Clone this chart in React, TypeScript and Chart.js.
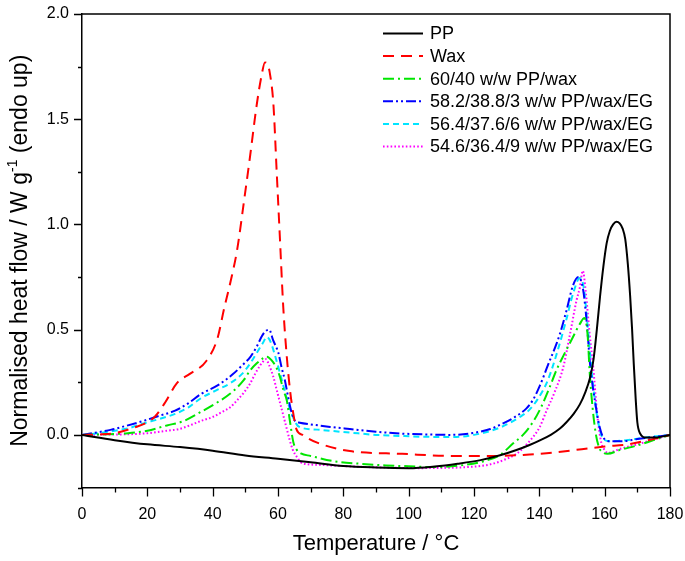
import React, { useEffect, useRef } from "react";
import { Chart, registerables } from "chart.js";

Chart.register(...registerables);

const FONT = "'Liberation Sans', Arial, sans-serif";

const xMajorTicks = [0, 20, 40, 60, 80, 100, 120, 140, 160, 180];
const xMinorTicks = [10, 30, 50, 70, 90, 110, 130, 150, 170];
const yMajorTicks = [0, 0.5, 1, 1.5, 2];
const yMinorTicks = [-0.25, 0.25, 0.75, 1.25, 1.75];

const seriesNames = [
  "PP",
  "Wax",
  "60/40 w/w PP/wax",
  "58.2/38.8/3 w/w PP/wax/EG",
  "56.4/37.6/6 w/w PP/wax/EG",
  "54.6/36.4/9 w/w PP/wax/EG",
];

// [temperature °C, normalised heat flow W/g]
const ppData: [number, number][] = [
  [0, 0], [10, -0.025], [20, -0.045], [30, -0.058], [40, -0.075], [50, -0.098], [60, -0.113],
  [70, -0.13], [80, -0.148], [90, -0.155], [100, -0.158], [108, -0.15], [115, -0.137],
  [122, -0.12], [128, -0.097], [133, -0.072], [137, -0.048], [140, -0.027], [143.5, 0.0],
  [146.3, 0.03], [148.3, 0.06], [150.5, 0.1], [152.4, 0.145], [154, 0.2], [155.5, 0.27],
  [156.6, 0.36], [157.6, 0.5], [158.6, 0.66], [159.6, 0.8], [160.6, 0.91], [161.6, 0.97],
  [162.6, 1.0], [163.6, 1.013], [164.6, 1.005], [165.5, 0.98], [166.3, 0.93], [167.1, 0.81],
  [167.8, 0.66], [168.4, 0.5], [168.9, 0.34], [169.5, 0.17], [170, 0.06], [170.8, 0.008],
  [172.8, -0.013], [176, -0.012], [180, 0],
];

const waxData: [number, number][] = [
  [0, 0], [5, 0.002], [10, 0.008], [16, 0.035], [20, 0.06], [22.5, 0.09], [25.5, 0.155],
  [29, 0.245], [33, 0.29], [38, 0.35], [41.5, 0.46], [43.5, 0.6], [45.5, 0.73], [47.5, 0.88],
  [49.5, 1.1], [51.5, 1.33], [53.5, 1.57], [55, 1.71], [56, 1.77], [56.7, 1.765], [57.6, 1.71],
  [58.6, 1.57], [59.6, 1.25], [60.6, 0.93], [61.6, 0.61], [62.7, 0.37], [63.7, 0.21],
  [64.7, 0.1], [65.7, 0.025], [67.5, 0.0], [72, -0.037], [82, -0.077], [98, -0.09],
  [113, -0.1], [128, -0.1], [137, -0.093], [144, -0.085], [153, -0.068], [160, -0.055],
  [167, -0.045], [172, -0.03], [180, 0],
];

const blend40Data: [number, number][] = [
  [0, 0], [8, 0.003], [14, 0.008], [20, 0.02], [26, 0.045], [31, 0.065], [36.5, 0.11],
  [41.5, 0.155], [45.3, 0.195], [49.5, 0.26], [51.5, 0.307], [53.5, 0.34], [55.5, 0.365],
  [56.5, 0.372], [58, 0.355], [59.5, 0.32], [60.6, 0.275], [61.7, 0.21], [62.7, 0.163],
  [63.7, 0.06], [64.7, -0.035], [65.7, -0.07], [67, -0.088], [70, -0.1], [77, -0.125],
  [85, -0.137], [93, -0.145], [100, -0.149], [108, -0.153], [116, -0.145], [123, -0.125],
  [128, -0.095], [132, -0.04], [135, 0.0], [138, 0.06], [140.5, 0.13], [143, 0.22],
  [145.3, 0.31], [147.5, 0.38], [150.3, 0.465], [152.5, 0.53], [153.8, 0.555], [154.8, 0.47],
  [155.4, 0.3], [156.3, 0.13], [157.3, 0.004], [158.3, -0.06], [159.6, -0.085],
  [160.8, -0.09], [165, -0.07], [170, -0.05], [175, -0.025], [180, 0],
];

const eg3Data: [number, number][] = [
  [0, 0], [4, 0.01], [9, 0.025], [13.5, 0.043], [18.5, 0.065], [23.5, 0.09], [28.5, 0.115],
  [32.5, 0.15], [36.5, 0.195], [41.5, 0.235], [46.3, 0.29], [49, 0.33], [51.5, 0.37],
  [53.5, 0.42], [55, 0.467], [56, 0.49], [57.3, 0.5], [58.5, 0.45], [60.1, 0.39],
  [61.1, 0.32], [62.1, 0.26], [63.1, 0.18], [64.1, 0.11], [65.2, 0.067], [66.7, 0.058],
  [70, 0.05], [76, 0.038], [82, 0.028], [90, 0.015], [98, 0.006], [106, 0.002], [113, 0.0],
  [120, 0.01], [125, 0.028], [128, 0.048], [132, 0.08], [136, 0.125], [138, 0.165],
  [140.2, 0.235], [142.6, 0.33], [145.3, 0.435], [146.3, 0.48], [148.3, 0.59], [150.3, 0.71],
  [152, 0.75], [153.4, 0.69], [154.6, 0.52], [155.5, 0.34], [157, 0.163], [158.5, 0.035],
  [159.6, -0.013], [161.6, -0.03], [165, -0.03], [170, -0.02], [175, -0.01], [180, 0],
];

const eg6Data: [number, number][] = [
  [0, 0], [5, 0.008], [10, 0.02], [15, 0.035], [18.5, 0.053], [23.5, 0.075], [28.5, 0.1],
  [32.5, 0.13], [36.5, 0.175], [41.5, 0.215], [45.3, 0.245], [49, 0.29], [51.5, 0.34],
  [53.5, 0.39], [55.5, 0.44], [56.5, 0.465], [57.5, 0.45], [59.5, 0.355], [61.7, 0.23],
  [63.5, 0.13], [65.7, 0.05], [67, 0.035], [72, 0.025], [82, 0.011], [90, 0.0],
  [97.5, -0.005], [105, -0.009], [113, -0.01], [120, 0.0], [128, 0.035], [134, 0.085],
  [137, 0.12], [139.5, 0.17], [142.6, 0.26], [145.6, 0.4], [148.3, 0.55], [150.3, 0.67],
  [152.4, 0.745], [153.6, 0.7], [154.6, 0.55], [156.4, 0.245], [157.9, 0.07], [159.6, -0.02],
  [161.6, -0.03], [165, -0.028], [170, -0.018], [175, -0.008], [180, 0],
];

const eg9Data: [number, number][] = [
  [0, 0], [8, 0.002], [14, 0.003], [20, 0.008], [26, 0.02], [29.5, 0.027], [33, 0.045],
  [36.5, 0.067], [40, 0.085], [43, 0.11], [45.3, 0.13], [47.5, 0.165], [49.5, 0.2],
  [51.5, 0.245], [53, 0.29], [54.5, 0.33], [55.5, 0.35], [56.3, 0.36], [57.3, 0.33],
  [58.5, 0.28], [59.5, 0.22], [60.5, 0.16], [61.5, 0.1], [62.5, 0.04], [63.5, -0.02],
  [64.5, -0.07], [66, -0.11], [67.5, -0.135], [72, -0.142], [80, -0.148], [87.5, -0.153],
  [95, -0.156], [103, -0.158], [110, -0.157], [118, -0.153], [125, -0.14], [129, -0.12],
  [133, -0.09], [137, -0.03], [140.2, 0.04], [142.2, 0.115], [144.6, 0.2], [147.3, 0.32],
  [149.4, 0.48], [151.4, 0.64], [152.4, 0.7], [153.3, 0.78], [154.2, 0.68], [155.4, 0.48],
  [156.5, 0.32], [157.7, 0.1], [159, -0.04], [159.9, -0.07], [160.9, -0.085],
  [165, -0.065], [170, -0.045], [175, -0.022], [180, 0],
];

const seriesData = [ppData, waxData, blend40Data, eg3Data, eg6Data, eg9Data];
const seriesColors = ["#000000", "#ff0000", "#00e600", "#0000ff", "#00e5ff", "#ff00ff"];
const seriesDashes: number[][] = [[], [11, 7], [11, 4, 2, 4], [10, 3, 2, 3, 2, 3], [6, 4], [1.6, 2.2]];

const decorPlugin = {
  id: "decor",
  afterDraw(chart: any) {
    const { ctx, chartArea } = chart;
    const xs = chart.scales.x;
    const ys = chart.scales.y;
    ctx.save();
    ctx.strokeStyle = "#000";
    ctx.lineWidth = 1.5;
    ctx.setLineDash([]);
    // frame top and right
    ctx.beginPath();
    ctx.moveTo(chartArea.left, chartArea.top);
    ctx.lineTo(chartArea.right, chartArea.top);
    ctx.lineTo(chartArea.right, chartArea.bottom);
    ctx.stroke();
    // ticks
    ctx.lineWidth = 1.3;
    ctx.beginPath();
    xMajorTicks.forEach((v) => {
      const px = Math.round(xs.getPixelForValue(v)) + 0.5;
      ctx.moveTo(px, chartArea.bottom);
      ctx.lineTo(px, chartArea.bottom + 9);
    });
    xMinorTicks.forEach((v) => {
      const px = Math.round(xs.getPixelForValue(v)) + 0.5;
      ctx.moveTo(px, chartArea.bottom);
      ctx.lineTo(px, chartArea.bottom + 5);
    });
    yMajorTicks.forEach((v) => {
      const py = Math.round(ys.getPixelForValue(v)) + 0.5;
      ctx.moveTo(chartArea.left, py);
      ctx.lineTo(chartArea.left - 8, py);
    });
    yMinorTicks.forEach((v) => {
      const py = Math.round(ys.getPixelForValue(v)) + 0.5;
      ctx.moveTo(chartArea.left, py);
      ctx.lineTo(chartArea.left - 4, py);
    });
    ctx.stroke();

    // y title with superscript
    const main = `23px ${FONT}`;
    const sup = `14px ${FONT}`;
    const p1 = "Normalised heat flow / W g";
    const p2 = "-1";
    const p3 = " (endo up)";
    ctx.font = main;
    const w1 = ctx.measureText(p1).width;
    const w3 = ctx.measureText(p3).width;
    ctx.font = sup;
    const w2 = ctx.measureText(p2).width;
    const total = w1 + w2 + w3;
    ctx.translate(21, (chartArea.top + chartArea.bottom) / 2);
    ctx.rotate(-Math.PI / 2);
    ctx.fillStyle = "#000";
    ctx.textBaseline = "middle";
    ctx.textAlign = "left";
    let x = -total / 2;
    ctx.font = main;
    ctx.fillText(p1, x, 0);
    x += w1;
    ctx.font = sup;
    ctx.fillText(p2, x, -8);
    x += w2;
    ctx.font = main;
    ctx.fillText(p3, x, 0);
    ctx.restore();

    // legend inside plot
    ctx.save();
    ctx.textBaseline = "middle";
    ctx.textAlign = "left";
    ctx.font = `18px ${FONT}`;
    const lx0 = chartArea.left + 301;
    const lx1 = chartArea.left + 341;
    seriesNames.forEach((name, i) => {
      const ly = chartArea.top + 19.5 + i * 22.6;
      ctx.strokeStyle = seriesColors[i];
      ctx.lineWidth = 2;
      ctx.setLineDash(seriesDashes[i]);
      ctx.beginPath();
      ctx.moveTo(lx0, ly);
      ctx.lineTo(lx1, ly);
      ctx.stroke();
      ctx.setLineDash([]);
      ctx.fillStyle = "#000";
      ctx.fillText(name, chartArea.left + 348, ly + 1);
    });
    ctx.restore();
  },
};

export default function App() {
  const canvasRef = useRef<HTMLCanvasElement | null>(null);

  useEffect(() => {
    document.body.style.margin = "0";
    const canvas = canvasRef.current;
    if (!canvas) return;
    const chart = new Chart(canvas, {
      type: "line",
      data: {
        datasets: seriesNames.map((name, i) => ({
          label: name,
          data: seriesData[i].map(([x, y]) => ({ x, y })),
          borderColor: seriesColors[i],
          backgroundColor: seriesColors[i],
          borderDash: seriesDashes[i],
          borderWidth: 2,
          pointRadius: 0,
          fill: false,
          cubicInterpolationMode: "monotone" as const,
        })),
      },
      options: {
        responsive: false,
        animation: false,
        layout: { padding: { top: 14, right: 15, left: 0, bottom: 0 } },
        plugins: {
          legend: { display: false },
          tooltip: { enabled: false },
        },
        scales: {
          x: {
            type: "linear",
            min: 0,
            max: 180,
            afterBuildTicks: (s: any) => {
              s.ticks = xMajorTicks.map((v) => ({ value: v }));
            },
            afterFit: (s: any) => {
              s.height = 73.5;
              s.paddingLeft = 0;
              s.paddingRight = 0;
            },
            grid: { display: false, drawTicks: false },
            border: { display: true, color: "#000", width: 1.5 },
            ticks: {
              padding: 17,
              color: "#000",
              font: { size: 16, family: FONT },
              maxRotation: 0,
              autoSkip: false,
              callback: (v: any) => String(v),
            },
            title: {
              display: true,
              text: "Temperature / °C",
              color: "#000",
              font: { size: 22, family: FONT },
              padding: { top: 0, bottom: 4 },
            },
          },
          y: {
            type: "linear",
            min: -0.25,
            max: 2.0,
            afterBuildTicks: (s: any) => {
              s.ticks = yMajorTicks.map((v) => ({ value: v }));
            },
            afterFit: (s: any) => {
              s.width = 82;
              s.paddingTop = 0;
              s.paddingBottom = 0;
            },
            grid: { display: false, drawTicks: false },
            border: { display: true, color: "#000", width: 1.5 },
            ticks: {
              padding: 13,
              color: "#000",
              font: { size: 16, family: FONT },
              autoSkip: false,
              callback: (v: any) => Number(v).toFixed(1),
            },
          },
        },
      },
      plugins: [decorPlugin],
    });
    return () => chart.destroy();
  }, []);

  return (
    <div style={{ width: 685, height: 561, position: "relative", background: "#fff" }}>
      <canvas ref={canvasRef} width={685} height={561} />
    </div>
  );
}
